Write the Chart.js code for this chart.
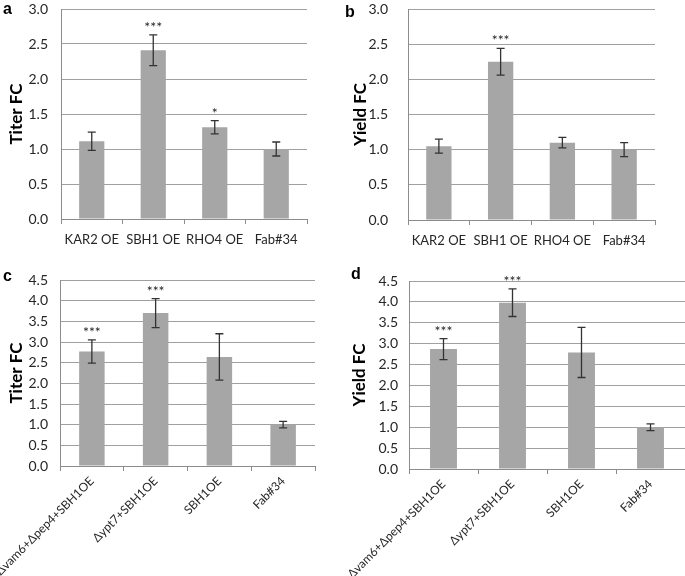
<!DOCTYPE html>
<html lang="en">
<head>
    <meta charset="UTF-8">
    <title>Titer and yield fold change</title>
    <script src="https://cdn.jsdelivr.net/npm/chart.js"></script>
    <style>
        body {
            margin: 0;
            background: #ffffff;
            width: 685px;
            height: 576px;
            position: relative;
            overflow: hidden;
        }
        canvas, .tag {
            position: absolute;
        }
        .tag {
            font: bold 16px 'Liberation Sans', Arial, sans-serif;
            line-height: 16px;
            color: #000;
        }
    </style>
</head>
<body>
    <canvas id="chartA" width="330" height="270" style="left:0;top:0"></canvas>
    <canvas id="chartB" width="345" height="270" style="left:340px;top:0"></canvas>
    <canvas id="chartC" width="340" height="306" style="left:0;top:270px"></canvas>
    <canvas id="chartD" width="345" height="306" style="left:340px;top:270px"></canvas>
    <div class="tag" style="left:3px;top:1px">a</div>
    <div class="tag" style="left:345px;top:4px">b</div>
    <div class="tag" style="left:3px;top:268px">c</div>
    <div class="tag" style="left:351px;top:266px">d</div>

    <script>
        // Top row: single overexpressions
        const topLabels = ['KAR2 OE', 'SBH1 OE', 'RHO4 OE', 'Fab#34'];
        const titerTop = [1.11, 2.41, 1.31, 1.00];
        const titerTopErr = [0.13, 0.22, 0.095, 0.10];
        const titerTopStars = ['', '***', '*', ''];
        const yieldTop = [1.05, 2.25, 1.10, 1.00];
        const yieldTopErr = [0.10, 0.19, 0.075, 0.10];
        const yieldTopStars = ['', '***', '', ''];

        // Bottom row: combinations
        const bottomLabels = ['\u0394vam6+\u0394pep4+SBH1OE', '\u0394ypt7+SBH1OE', 'SBH1OE', 'Fab#34'];
        const titerBottom = [2.77, 3.70, 2.64, 1.00];
        const titerBottomErr = [0.28, 0.35, 0.56, 0.08];
        const titerBottomStars = ['***', '***', '', ''];
        const yieldBottom = [2.87, 3.98, 2.79, 1.00];
        const yieldBottomErr = [0.25, 0.33, 0.60, 0.08];
        const yieldBottomStars = ['***', '***', '', ''];

        Chart.defaults.font.family = 'Lato, "Open Sans", sans-serif';
        Chart.defaults.color = '#262626';

        // error bars and significance stars drawn on top of the bars
        const errorBarPlugin = {
            id: 'errorBars',
            afterDatasetsDraw(chart, args, opts) {
                const ctx = chart.ctx;
                const y = chart.scales.y;
                const meta = chart.getDatasetMeta(0);
                const vals = chart.data.datasets[0].data;
                ctx.save();
                ctx.strokeStyle = '#333333';
                ctx.lineWidth = 1.3;
                meta.data.forEach((bar, i) => {
                    const hi = y.getPixelForValue(vals[i] + opts.err[i]);
                    const lo = y.getPixelForValue(vals[i] - opts.err[i]);
                    ctx.beginPath();
                    ctx.moveTo(bar.x, hi); ctx.lineTo(bar.x, lo);
                    ctx.moveTo(bar.x - 4, hi); ctx.lineTo(bar.x + 4, hi);
                    ctx.moveTo(bar.x - 4, lo); ctx.lineTo(bar.x + 4, lo);
                    ctx.stroke();
                    if (opts.stars[i]) {
                        ctx.fillStyle = '#262626';
                        ctx.font = '14px Lato, sans-serif';
                        ctx.textAlign = 'center';
                        ctx.textBaseline = 'alphabetic';
                        ctx.fillText(opts.stars[i], bar.x, hi - 3);
                    }
                });
                ctx.restore();
            }
        };

        function makePanel(id, labels, values, errs, stars, cfg) {
            return new Chart(document.getElementById(id), {
                type: 'bar',
                data: {
                    labels: labels,
                    datasets: [{
                        data: values,
                        backgroundColor: '#a6a6a6',
                        borderWidth: 0,
                        categoryPercentage: 1.0,
                        barPercentage: cfg.barPct
                    }]
                },
                plugins: [errorBarPlugin],
                options: {
                    responsive: false,
                    animation: false,
                    layout: { padding: { top: cfg.padTop, right: cfg.padRight, left: 0, bottom: 0 } },
                    plugins: {
                        legend: { display: false },
                        tooltip: { enabled: false },
                        errorBars: { err: errs, stars: stars }
                    },
                    scales: {
                        x: {
                            offset: true,
                            grid: { offset: true, drawOnChartArea: false, drawTicks: true, tickLength: 5, color: '#8c8c8c' },
                            border: { color: '#8c8c8c', width: 1 },
                            ticks: {
                                autoSkip: false,
                                maxRotation: cfg.rot,
                                minRotation: cfg.rot,
                                padding: cfg.xPad,
                                font: { size: cfg.xFont },
                                color: '#262626'
                            },
                            afterFit(s) { s.height = cfg.xHeight; s.paddingLeft = 0; s.paddingRight = 0; }
                        },
                        y: {
                            min: 0,
                            max: cfg.yMax,
                            grid: { color: '#a0a0a0', drawTicks: false },
                            border: { color: '#8c8c8c', width: 1 },
                            ticks: {
                                stepSize: 0.5,
                                padding: cfg.yPad,
                                font: { size: 14 },
                                color: '#262626',
                                callback: v => v.toFixed(1)
                            },
                            title: {
                                display: true,
                                text: cfg.title,
                                font: { size: 17, weight: 'bold' },
                                color: '#000000',
                                padding: { top: cfg.titlePad, bottom: 0 }
                            },
                            afterFit(s) { s.width = cfg.yWidth; s.paddingTop = 0; s.paddingBottom = 0; }
                        }
                    }
                }
            });
        }

        makePanel('chartA', topLabels, titerTop, titerTopErr, titerTopStars,
            { yMax: 3, title: 'Titer FC', yWidth: 61, xHeight: 51, padTop: 9, padRight: 23, rot: 0, xFont: 13, xPad: 8, yPad: 13, titlePad: 6, barPct: 0.41 });
        makePanel('chartB', topLabels, yieldTop, yieldTopErr, yieldTopStars,
            { yMax: 3, title: 'Yield FC', yWidth: 68, xHeight: 50, padTop: 9, padRight: 30, rot: 0, xFont: 13, xPad: 8, yPad: 20, titlePad: 10, barPct: 0.41 });
        makePanel('chartC', bottomLabels, titerBottom, titerBottomErr, titerBottomStars,
            { yMax: 4.5, title: 'Titer FC', yWidth: 60, xHeight: 110, padTop: 10, padRight: 25, rot: 45, xFont: 12, xPad: 3, yPad: 12, titlePad: 6, barPct: 0.4 });
        makePanel('chartD', bottomLabels, yieldBottom, yieldBottomErr, yieldBottomStars,
            { yMax: 4.5, title: 'Yield FC', yWidth: 69, xHeight: 107, padTop: 11, padRight: 0, rot: 45, xFont: 12, xPad: 3, yPad: 11, titlePad: 9, barPct: 0.39 });
    </script>
</body>
</html>
